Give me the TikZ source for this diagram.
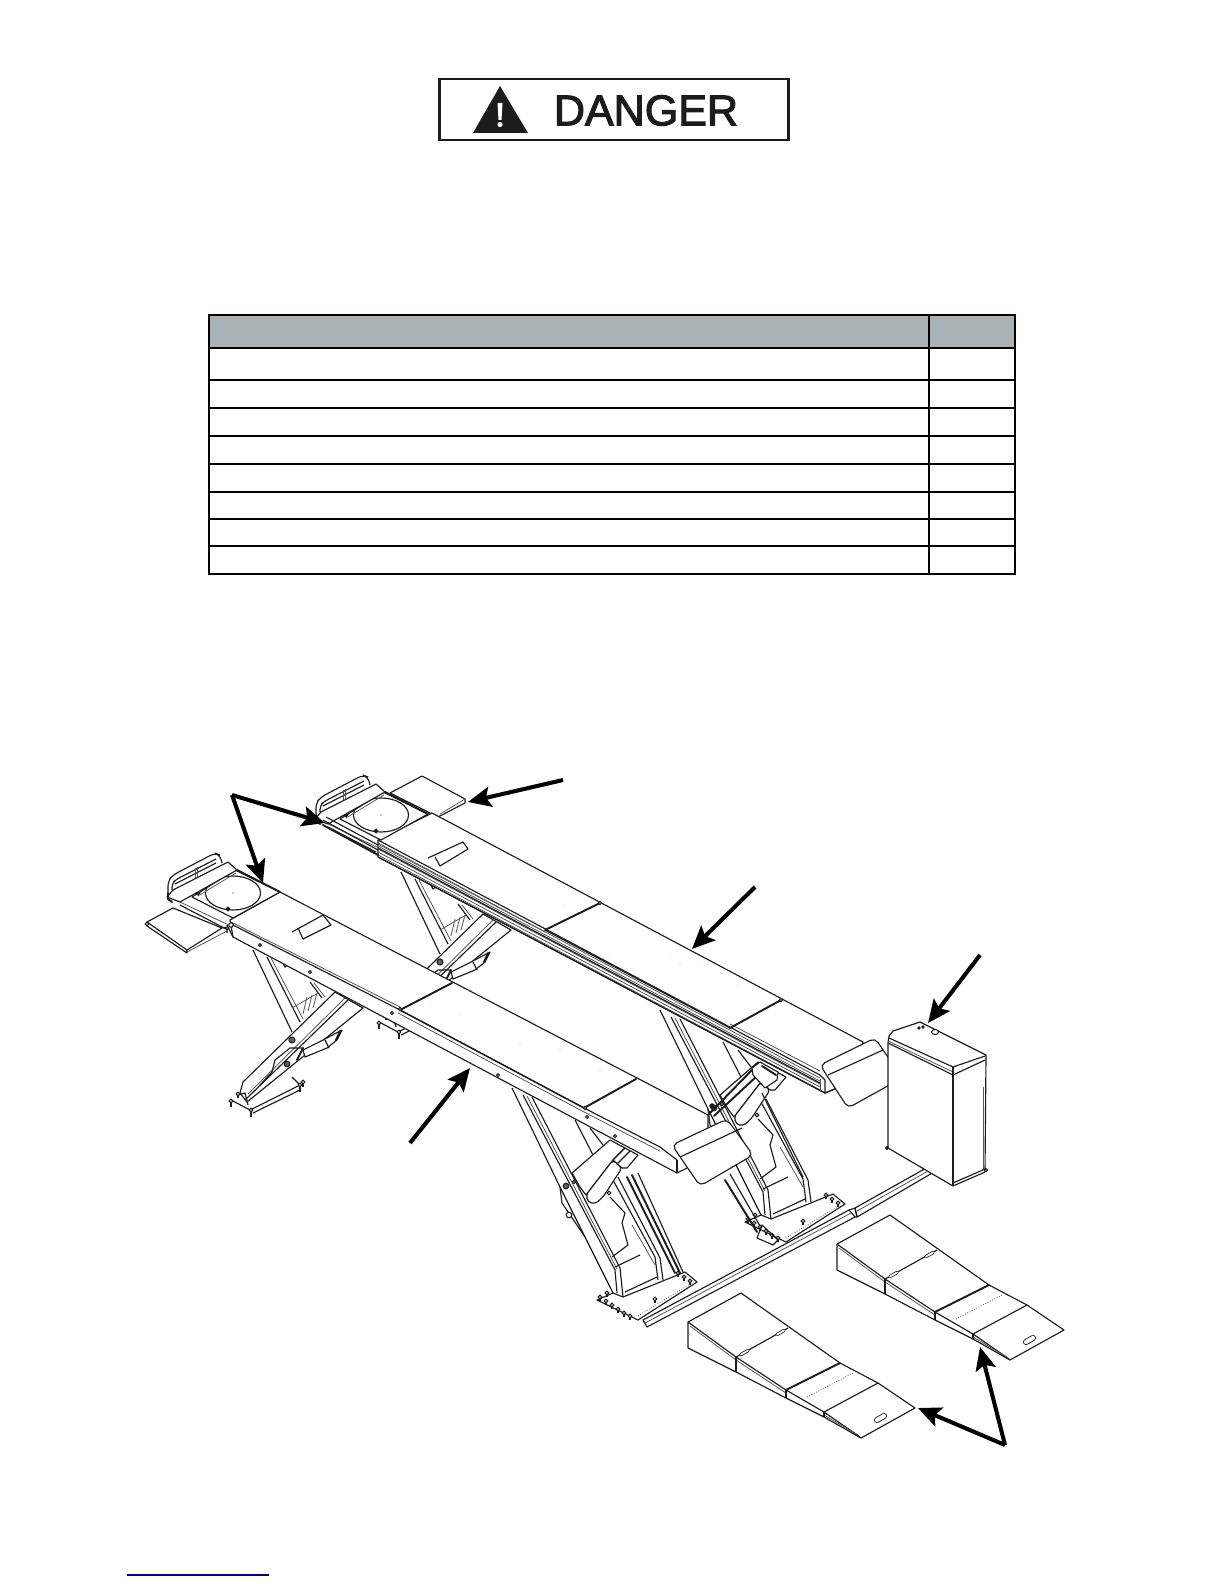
\documentclass[tikz,border=0pt]{standalone}
\usepackage{fontspec}
\setmainfont{Liberation Sans}
\newfontfamily\dangerfont[FakeBold=2.5]{Liberation Sans}
\usetikzlibrary{arrows.meta}
\definecolor{inkc}{HTML}{1C1C1C}
\definecolor{headgray}{HTML}{A9B3B5}
\definecolor{linkblue}{HTML}{00008B}
\tikzset{
  ln/.style={draw=inkc,line width=.65pt,line join=round},
  fin/.style={draw=inkc!75,line width=.45pt,line join=round},
  hv/.style={draw=inkc,line width=1.1pt,line cap=round},
  wfill/.style={ln,fill=white},
  bolt/.style={draw=inkc,line width=.6pt,fill=white},
  tb/.style={draw=black,line width=1.1pt},
  slotout/.style={draw=inkc,line width=3.4pt,line cap=round},
  slotin/.style={draw=white,line width=2.4pt,line cap=round},
  callout/.style={draw=black,line width=2.3pt,-{Stealth[length=13pt,width=11.5pt,inset=2.5pt]}}
}
\newcommand{\studbolt}[3]{% x, y, stem
  \draw[ln] (#1,#2-#3)--(#1,#2);
  \draw[bolt] (#1,#2-#3) circle (1.8);
}
\newcommand{\rampshape}{%
  \draw[wfill] (688,1322)--(741,1293)--(840,1363)--(878,1383)--(915,1408)--(861,1438)--(824,1417)--(786,1398)--(736,1372)--(688,1348)--cycle;
  \draw[ln] (688,1322)--(736,1357)--(786,1390)--(824,1412)--(860,1437);
  \draw[fin] (690,1326)--(736,1360)--(786,1393);
  \draw[fin] (824,1415)--(858,1435);
  \draw[ln] (736,1357)--(736,1372);
  \draw[ln] (786,1390)--(786,1398);
  \draw[ln] (824,1412)--(824,1417);
  \draw[ln] (736,1357)--(788,1328);
  \draw[draw=inkc,line width=1.9pt,line cap=round] (741,1354.5)--(748,1350.5);
  \draw[draw=white,line width=1pt,line cap=round] (741,1354.5)--(748,1350.5);
  \draw[draw=inkc,line width=1.9pt,line cap=round] (777,1334.5)--(784,1330.5);
  \draw[draw=white,line width=1pt,line cap=round] (777,1334.5)--(784,1330.5);
  \draw[hv] (786,1390)--(840,1363);
  \draw[ln] (824,1412)--(878,1383);
  \draw[fin,densely dotted] (807,1397)--(853,1373);
  \draw[slotout] (877,1420)--(884,1416);
  \draw[slotin] (877,1420)--(884,1416);
}
\newcommand{\turntable}{%
  \draw[wfill] (192,897)--(235,870)--(280,892)--(233,918)--cycle;
  \begin{scope}
    \clip (192,897)--(235,870)--(280,892)--(233,918)--cycle;
    \draw[ln] (233,893) ellipse [x radius=27.5,y radius=17];
  \end{scope}
  \fill[inkc] (233,893) circle (.7);
  \draw[fin] (198,896)--(236,873);
  \draw[hv] (237,870)--(280,892);
  \draw[bolt,fill=inkc] (198,893) circle (1.8);
  \draw[bolt,fill=inkc] (228,909) circle (1.8);
  \draw[wfill] (167,897)--(173,890)--(228,862)--(237,870)--(180,902)--cycle;
  \draw[ln,rounded corners=3pt] (168,896)--(168,881)--(173,875)--(215,853)--(220,855)--(222,863);
  \draw[ln,rounded corners=2.5pt] (172,890)--(172,883)--(177,879)--(216,859);
  \draw[ln] (175,884)--(216,863);
  \draw[fin] (195,868)--(195,878);
  \draw[fin] (197,867)--(197,877);
  \draw[hv] (168,893)--(168,899)--(172,902);
  \draw[fin] (180,902)--(233,927);
  \draw[ln] (180,905)--(228,930);
}
\newcommand{\scissorleft}{%
  \draw[ln] (253,950)--(292,1032);
  \draw[ln] (267,957)--(300,1022);
  \draw[fin] (271,958)--(303,1019);
  \draw[ln] (310,982)--(322,998);
  \draw[fin] (314,983)--(325,997);
  \draw[fin] (292,1008)--(318,993);
  \foreach \bb in {0,1,2} {\draw[fin] (303+5*\bb,1014-3*\bb)--(307+5*\bb,997-2*\bb);}
  \draw[ln] (280,958)--(285,967)--(295,960);
  \draw[ln] (231,1100)--(250,1110)--(300,1085)--(292,1077);
  \draw[ln] (253,1113)--(300,1090);
  \draw[wfill] (240,1093)--(243,1082)--(335,992)--(363,1008)--(247,1102)--cycle;
  \draw[ln] (245,1100)--(348,1000);
  \draw[fin] (248,1094)--(345,998);
  \draw[ln] (272,1072)--(275,1060)--(290,1048)--(303,1048);
  \draw[ln] (260,1085)--(272,1072);
  \draw[wfill] (303,1050)--(323,1040)--(342,1030)--(337,1040)--(327,1048)--(305,1057)--cycle;
  \draw[ln] (325,1040)--(329,1048);
  \draw[hv] (340,1031)--(336,1040);
  \draw[hv] (297,1060)--(303,1048);
  \draw[bolt,fill=inkc!70] (292,1040) circle (3);
  \draw[bolt,fill=inkc!70] (287,1064) circle (2.8);
  \draw[ln] (238,1095)--(245,1093)--(248,1105);
  \studbolt{231}{1107}{6}
  \studbolt{251}{1117}{7}
  \studbolt{300}{1092}{7}
  \studbolt{303}{1087}{5}
  \studbolt{238}{1098}{4}
  \draw[bolt] (348,995) circle (2);
}
\newcommand{\scissorright}{%
  \draw[wfill] (597,1300)--(638,1320)--(697,1282)--(685,1272)--(623,1297)--(613,1293)--cycle;
  \draw[fin,densely dotted] (638,1316)--(690,1284);
  \draw[ln] (512,1088)--(560,1187)--(613,1293);
  \draw[ln] (560,1187)--(562,1203)--(585,1237);
  \draw[ln] (523,1095)--(615,1270)--(617,1293);
  \draw[fin] (527,1096)--(617,1269);
  \draw[ln] (532,1097)--(620,1268)--(623,1297);
  \draw[ln] (575,1120)--(593,1155);
  \draw[ln] (590,1128)--(603,1145);
  \draw[ln] (613,1180)--(655,1257)--(658,1280);
  \draw[ln] (618,1177)--(660,1258)--(663,1280);
  \draw[ln] (610,1197)--(625,1213)--(622,1223)--(628,1245)--(612,1257);
  \draw[fin] (632,1225)--(655,1265);
  \draw[ln] (615,1267)--(640,1255);
  \draw[ln] (625,1292)--(657,1277);
  \draw[wfill] (572,1173)--(610,1140)--(625,1148)--(613,1160)--(586,1195)--(580,1187)--cycle;
  \draw[wfill,rounded corners=2pt] (586,1195)--(588,1202)--(595,1204)--(603,1197)--(622,1168)--(613,1160)--cycle;
  \draw[wfill] (613,1160)--(625,1148)--(638,1155)--(627,1168)--(622,1168)--cycle;
  \draw[ln] (617,1164)--(630,1151);
  \draw[bolt] (609,1193) circle (1.8);
  \draw[bolt,fill=inkc!70] (566,1186) circle (2.8);
  \draw[bolt] (569,1215) circle (2.8);
  \draw[bolt] (574,1182) circle (1.6);
  \foreach \p/\q in {600/1297,606/1301,612/1305,618/1309,624/1313,630/1316,607/1293,655/1299,678/1273,684/1277,690/1281}
    {\studbolt{\p}{\q+4}{4}}
}
\begin{document}
\begin{tikzpicture}[x=0.02cm,y=-0.02cm]
\useasboundingbox (0,0) rectangle (1224,1584);
\fill[white] (0,0) rectangle (1224,1584);

%% danger sign
\draw[draw=inkc,line width=1.7pt] (439,79) rectangle (788,140);
\fill[inkc] (473,133)--(500,86)--(528,133)--cycle;
\fill[white] (497.5,103)--(502.5,103)--(501.5,120)--(498.5,120)--cycle;
\fill[white] (500,124.5) circle (2.6);
\node[inner sep=0pt,anchor=center,text=inkc,font=\dangerfont\fontsize{24.5}{26}\selectfont] (dangertext) at (646,110.5) {DANGER};

%% table
\fill[headgray] (209,315) rectangle (1015,348);
\draw[tb] (209,315) rectangle (1015,574);
\foreach \yy in {348,380,408,436,464,492,519,546}
  {\draw[tb] (209,\yy)--(1015,\yy);}
\draw[tb] (929,315)--(929,574);

%% link underline
\draw[draw=linkblue,line width=1pt] (127,1575)--(269,1575);

%% guide rail on the ground
\draw[wfill] (643,1320)--(849,1210)--(855,1217)--(647,1327)--cycle;
\draw[wfill] (855,1208)--(928,1167)--(934,1172)--(857,1217)--cycle;
\draw[fin] (645,1323)--(851,1213);
\draw[fin] (857,1211)--(930,1170);
\draw[ln] (849,1210)--(855,1208)--(857,1217)--(855,1217);

%% rear lift: scissors (same geometry as the front lift, shifted)
\begin{scope}[shift={(148,-78)}]
  \scissorleft
  \scissorright
\end{scope}
% rear-lift extras
\draw[hv] (725,1180)--(757,1232);
\draw[ln] (730,1174)--(760,1226);
\draw[ln] (762,1093)--(803,1177);
\draw[hv] (708,1115)--(752,1070);
\draw[hv] (714,1116)--(758,1075);
\draw[wfill] (752,1068)--(760,1062)--(778,1072)--(777,1080)--(765,1088)--(753,1075)--cycle;
\draw[hv] (762,1066)--(776,1075);
\draw[bolt,fill=inkc] (712,1106) circle (2.2);
\draw[ln] (757,1238)--(773,1245)--(778,1240)--(762,1225)--cycle;

%% rear runway
\draw[wfill] (390,793)--(422,776)--(465,799)--(465,803)--(438,817)--cycle;
\draw[fin] (440,814)--(465,799);
\draw[wfill] (432,813)--(863,1042)--(863,1060)--(837,1088)--(825,1093)--(378,857)--(378,840)--cycle;
\foreach \oo in {3,6,9,12,15}
  {\draw[fin] (378,840+\oo)--(820,1075+\oo);}
\draw[ln] (378,848)--(820,1083);
\draw[ln] (378,857)--(825,1093);
\draw[ln] (378,840)--(820,1075);
\draw[ln] (820,1075)--(825,1080)--(825,1093)--(837,1088);
\draw[fin] (820,1079)--(820,1092);
\draw[fin] (378,844)--(545,932);
\draw[fin] (730,1024)--(820,1071);
\draw[ln] (545,930)--(730,1028);
\draw[hv] (545,930)--(600,903);
\draw[hv] (730,1028)--(781,1000);
\draw[bolt] (600,903) circle (1.6);
\draw[bolt] (781,1000) circle (1.6);
\draw[ln] (428,858)--(463,842)--(468,849)--(440,866)--(435,857);
\foreach \p/\q in {500/905,530/918,564/905,610/955,670/955,680/965,700/965,738/985}
  {\fill[inkc!25] (\p,\q) circle (.6);}

% rear turntable section
\begin{scope}[shift={(148,-78)}]
  \turntable
\end{scope}
\draw[hv] (323,825)--(378,855);
\draw[ln] (323,820)--(378,850);
\draw[ln] (326,817)--(378,845);

%% front lift: scissors
\scissorleft
\scissorright
\draw[hv] (627,1177)--(675,1273);
\draw[hv] (632,1175)--(680,1273);
\draw[ln] (638,1173)--(683,1272);

%% front runway
\draw[wfill] (147,922)--(173,908)--(222,928)--(187,950)--cycle;
\draw[ln] (147,922)--(147,926)--(187,953)--(187,950);
\draw[fin] (187,952)--(227,931);
\draw[ln] (222,928)--(227,927)--(227,933);
\draw[bolt] (147,924) circle (1.8);
\draw[wfill] (280,892)--(708,1115)--(708,1132)--(687,1168)--(677,1173)--(233,937)--(230,920)--cycle;
\draw[ln] (233,925)--(400,1010);
\draw[fin] (231,922)--(400,1007);
\draw[line width=.9pt,draw=inkc] (400,1010)--(584,1108);
\draw[fin] (398,1013)--(584,1112);
\draw[ln] (584,1108)--(660,1147)--(677,1160);
\draw[fin] (584,1112)--(660,1151);
\draw[ln] (677,1160)--(677,1173);
\draw[hv] (400,1010)--(452,983);
\draw[hv] (584,1108)--(636,1079);
\draw[bolt] (400,1009) circle (1.6);
\draw[bolt] (585,1108) circle (1.6);
\draw[ln] (227,925)--(233,937);
\foreach \p/\q in {260/945,310/972,392/1013,498/1075,587/1117,615/1136}
  {\draw[bolt] (\p,\q) circle (1.5);}
\draw[ln] (292,932)--(323,915)--(331,925)--(303,939)--(298,928);
\foreach \p/\q in {430/1003,460/1015,520/1045,560/1050,600/1070,620/1085}
  {\fill[inkc!25] (\p,\q) circle (.6);}
\turntable
\draw[bolt] (231,925) circle (2.2);

%% approach flaps
\draw[wfill,rounded corners=3pt] (820,1065)--(875,1038)--(902,1078)--(848,1108)--cycle;
\draw[ln] (828,1075)--(883,1050);
\draw[wfill,rounded corners=3pt] (672,1145)--(727,1119)--(753,1155)--(700,1186)--cycle;
\draw[ln] (680,1157)--(742,1128);

%% control box
\draw[wfill] (888,1043)--(889,1036)--(893,1031)--(920,1022)--(986,1055)--(985,1172)--(953,1186)--(888,1148)--cycle;
\draw[ln] (889,1038)--(953,1067)--(985,1056);
\draw[ln] (888,1043)--(953,1075)--(985,1060);
\draw[fin] (888,1041)--(953,1072);
\draw[ln] (953,1067)--(953,1186);
\draw[fin] (983,1087)--(983,1170);
\draw[ln] (953,1183)--(985,1169);
\draw[bolt] (919,1028) circle (1.2);
\draw[bolt] (923,1027) circle (1.2);
\draw[bolt] (935,1032) ellipse [x radius=3.5,y radius=2.5];
\draw[bolt,fill=inkc] (887,1148) circle (1.5);
\draw[bolt] (986,1170) circle (1.5);

%% wheel ramps
\rampshape
\begin{scope}[shift={(149,-78)}]
  \rampshape
\end{scope}

%% callout arrows
\coordinate (tipflap) at (468,802);
\coordinate (tailflap) at (563,780);
\coordinate (forkA) at (232,795);
\coordinate (tipfa) at (325,823);
\coordinate (tipfb) at (263,883);
\coordinate (tailbeam) at (410,1143);
\coordinate (tipbeam) at (470,1068);
\coordinate (taildeck) at (755,887);
\coordinate (tipdeck) at (692,949);
\coordinate (tailbox) at (980,955);
\coordinate (tipbox) at (928,1023);
\coordinate (forkB) at (1005,1445);
\coordinate (tipra) at (918,1408);
\coordinate (tiprb) at (980,1347);
\draw[callout] (tailflap)--(tipflap);
\draw[callout] (forkA)--(tipfa);
\draw[callout] (forkA)--(tipfb);
\draw[callout] (tailbeam)--(tipbeam);
\draw[callout] (taildeck)--(tipdeck);
\draw[callout] (tailbox)--(tipbox);
\draw[callout] (forkB)--(tipra);
\draw[callout] (forkB)--(tiprb);
\end{tikzpicture}
\end{document}
